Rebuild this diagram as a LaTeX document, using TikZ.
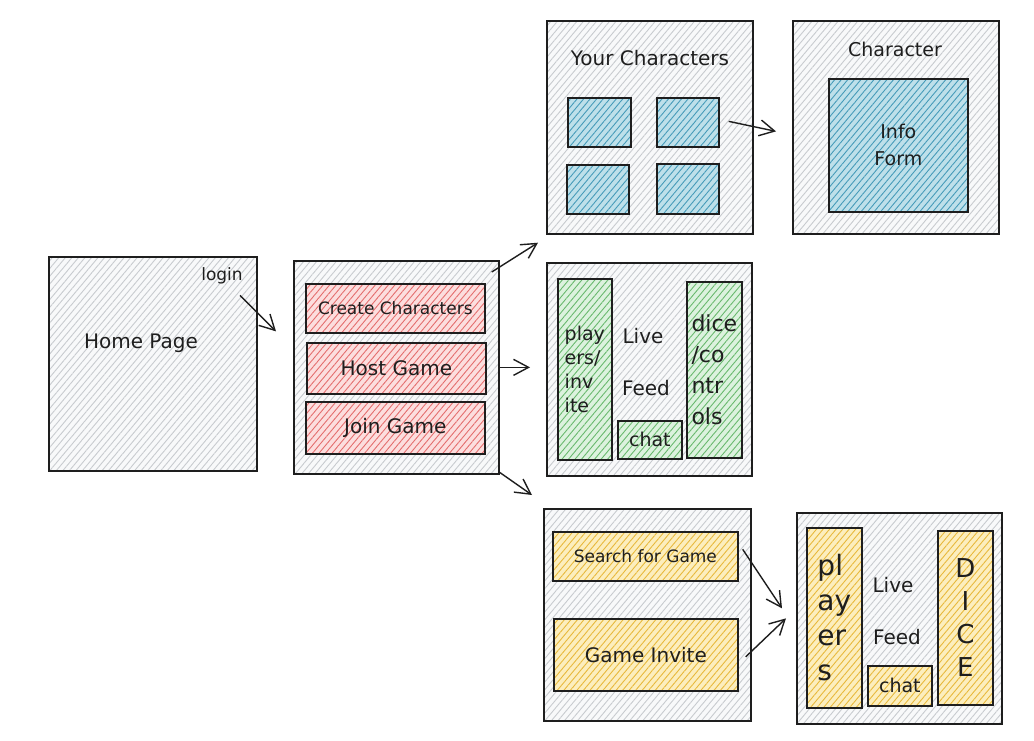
\documentclass[tikz,border=0pt]{standalone}
\usepackage{fontspec}
\setmainfont{DejaVu Sans}
\usetikzlibrary{arrows.meta,patterns.meta}
\definecolor{ink}{RGB}{30,30,30}
\definecolor{paper}{RGB}{248,249,250}
\definecolor{paperhatch}{RGB}{200,203,207}
\definecolor{redfill}{RGB}{252,222,222}
\definecolor{redhatch}{RGB}{228,110,110}
\definecolor{bluefill}{RGB}{190,224,234}
\definecolor{bluehatch}{RGB}{70,155,185}
\definecolor{greenfill}{RGB}{220,242,222}
\definecolor{greenhatch}{RGB}{105,185,110}
\definecolor{yellowfill}{RGB}{252,238,190}
\definecolor{yellowhatch}{RGB}{232,185,60}
\tikzset{
  sketch/.style 2 args={preaction={fill=#1},
    pattern={Lines[angle=50,distance=5pt,line width=0.9pt]}, pattern color=#2,
    postaction={draw=ink, line width=1.7pt},
    anchor=north west, inner sep=0pt, outer sep=0.85pt, align=center, text=ink},
  screen/.style={sketch={paper}{paperhatch}},
  redbtn/.style={sketch={redfill}{redhatch}},
  bluebox/.style={sketch={bluefill}{bluehatch}},
  greenbox/.style={sketch={greenfill}{greenhatch}},
  yellowbox/.style={sketch={yellowfill}{yellowhatch}},
  lbl/.style={text=ink, inner sep=0pt},
  arr/.style={draw=ink, line width=1.4pt, -{Straight Barb[length=15pt,width=16pt,line width=1.4pt]}}
}

\begin{document}
\begin{tikzpicture}[x=1pt,y=-1pt]
\useasboundingbox[fill=white] (0,0) rectangle (1034,740);

\node[screen, minimum width=208, minimum height=214] (home) at (48,256) {};
\path (141,343) node[lbl, font=\fontsize{20}{24}\selectfont] (homelbl) {Home Page};
\path (222,276) node[lbl, font=\fontsize{17}{20}\selectfont] (login) {login};

\node[screen, minimum width=205, minimum height=213] (menu) at (293,260) {};
\node[redbtn, minimum width=179, minimum height=49, font=\fontsize{17}{20}\selectfont] (create) at (305,283) {Create Characters};
\node[redbtn, minimum width=179, minimum height=51, font=\fontsize{20}{24}\selectfont] (hostbtn) at (306,342) {Host Game};
\node[redbtn, minimum width=179, minimum height=52, font=\fontsize{20}{24}\selectfont] (joinbtn) at (305,401) {Join Game};

\node[screen, minimum width=206, minimum height=213] (yourchars) at (546,20) {};
\path (650,58) node[lbl, font=\fontsize{20}{24}\selectfont] (yourlbl) {Your Characters};
\node[bluebox, minimum width=63, minimum height=49] (slot1) at (567,97) {};
\node[bluebox, minimum width=62, minimum height=49] (slot2) at (656,97) {};
\node[bluebox, minimum width=62, minimum height=49] (slot3) at (566,164) {};
\node[bluebox, minimum width=62, minimum height=50] (slot4) at (656,163) {};

\node[screen, minimum width=206, minimum height=213] (charpage) at (792,20) {};
\path (895,49) node[lbl, font=\fontsize{19}{23}\selectfont] (charlbl) {Character};
\node[bluebox, minimum width=139, minimum height=133, font=\fontsize{19}{27}\selectfont] (form) at (828,78) {Info\\Form};

\node[screen, minimum width=205, minimum height=213] (hostview) at (546,262) {};
\node[greenbox, minimum width=54, minimum height=181, align=left, font=\fontsize{19}{24}\selectfont] (hplayers) at (557,278) {play\\ers/\\inv\\ite};
\path (643,336) node[lbl, font=\fontsize{20}{24}\selectfont] (hlive) {Live};
\path (646,388) node[lbl, font=\fontsize{20}{24}\selectfont] (hfeed) {Feed};
\node[greenbox, minimum width=64, minimum height=38, font=\fontsize{19}{23}\selectfont] (hchat) at (617,420) {chat};
\node[greenbox, minimum width=55, minimum height=176, align=left, font=\fontsize{22}{31}\selectfont] (hdice) at (686,281) {dice\\/co\\ntr\\ols};

\node[screen, minimum width=207, minimum height=212] (joinview) at (543,508) {};
\node[yellowbox, minimum width=185, minimum height=49, font=\fontsize{17}{20}\selectfont] (search) at (552,531) {Search for Game};
\node[yellowbox, minimum width=184, minimum height=72, font=\fontsize{20}{24}\selectfont] (invite) at (553,618) {Game Invite};

\node[screen, minimum width=205, minimum height=211] (gameview) at (796,512) {};
\node[yellowbox, minimum width=55, minimum height=180, align=left, font=\fontsize{28}{35}\selectfont] (gplayers) at (806,527) {pl\\ay\\er\\s};
\path (893,585) node[lbl, font=\fontsize{20}{24}\selectfont] (glive) {Live};
\path (897,637) node[lbl, font=\fontsize{20}{24}\selectfont] (gfeed) {Feed};
\node[yellowbox, minimum width=64, minimum height=40, font=\fontsize{19}{23}\selectfont] (gchat) at (867,665) {chat};
\node[yellowbox, minimum width=55, minimum height=174, font=\fontsize{26}{33}\selectfont] (gdice) at (937,530) {D\\I\\C\\E};

\draw[arr] ([shift={(18,11)}]login.south) -- ([shift={(-17,-36)}]menu.west);
\draw[arr] ([shift={(-8,12)}]menu.north east) -- ([shift={(-8,8)}]yourchars.south west);
\draw[arr] ([shift={(-1,0)}]menu.east) -- ([shift={(-16,-2)}]hostview.west);
\draw[arr] ([shift={(-1,-3)}]menu.south east) -- ([shift={(-11,-13)}]joinview.north west);
\draw[arr] ([shift={(9,-1)}]slot2.east) -- ([shift={(-16,4)}]charpage.west);
\draw[arr] ([shift={(4,-7)}]search.east) -- ([shift={(-14,-10)}]gameview.west);
\draw[arr] ([shift={(7,2)}]invite.east) -- ([shift={(-10,0)}]gameview.west);
\end{tikzpicture}
\end{document}
